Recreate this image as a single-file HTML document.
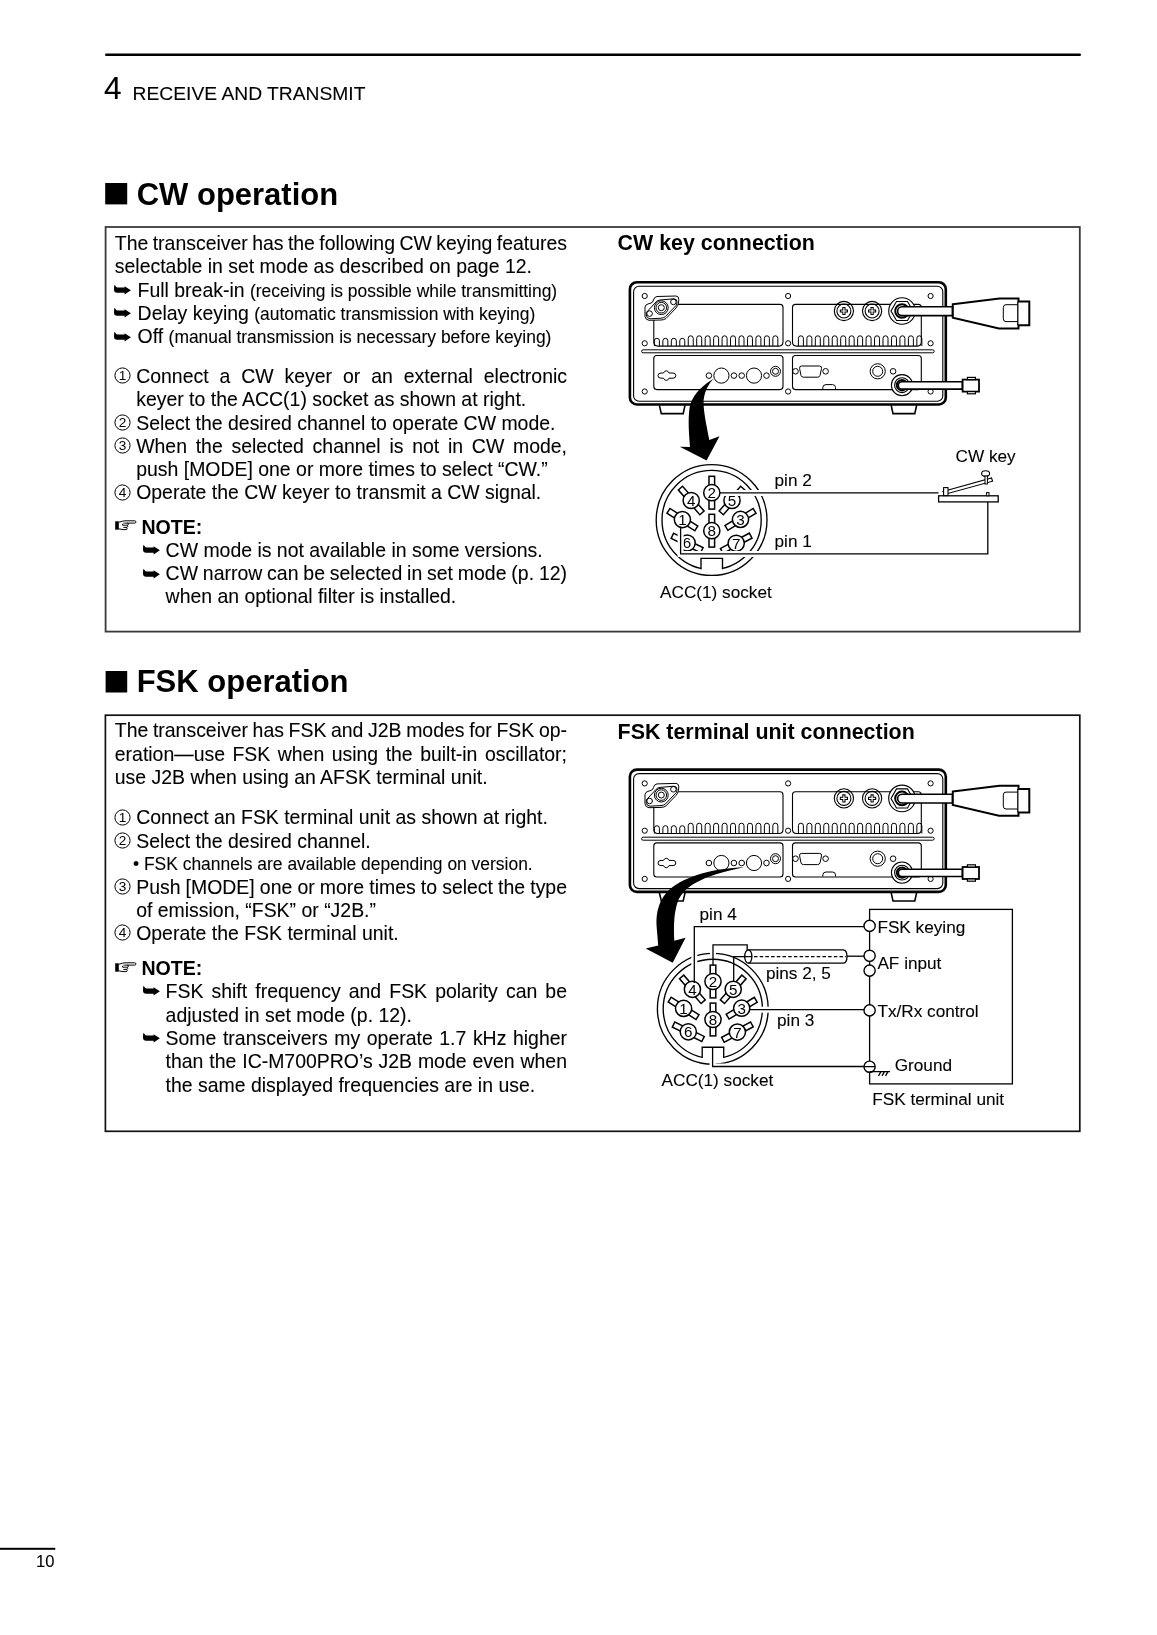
<!DOCTYPE html>
<html><head><meta charset="utf-8">
<style>
html,body{margin:0;padding:0;background:#fff;}
body{width:1157px;height:1635px;position:relative;overflow:hidden;font-family:"Liberation Sans",sans-serif;color:#000;}
.t{position:absolute;white-space:nowrap;line-height:1;}
.r{-webkit-text-stroke:0.1px #000;}
#tx{position:absolute;left:0;top:0;width:1157px;height:1635px;will-change:transform;}
.j{text-align:justify;text-align-last:justify;white-space:normal;}
svg{display:block;}
</style></head><body>
<svg style="position:absolute;left:0;top:0;will-change:transform" width="1157" height="1635" viewBox="0 0 1157 1635">
<rect x="105" y="53.5" width="976" height="2.6" rx="1.3" fill="#000"/>
<rect x="0" y="1547.8" width="55.3" height="2" fill="#000"/>
<rect x="105.2" y="183" width="22" height="21.4" fill="#000"/>
<rect x="105.6" y="671" width="21.6" height="21.5" fill="#000"/>
<rect x="105.6" y="227" width="974.2" height="404.6" fill="none" stroke="#3a3a3a" stroke-width="1.8"/>
<rect x="105.4" y="715.2" width="974.4" height="416.1" fill="none" stroke="#111" stroke-width="1.7"/>
<g id="panelCW"><rect x="629.9" y="282.2" width="315.9" height="122.3" rx="7" fill="none" stroke="#000" stroke-width="2.6"/>
<rect x="633.6" y="286.2" width="309.2" height="115" rx="5.5" fill="none" stroke="#000" stroke-width="1.1"/>
<path d="M659.4,405.4 L661.3,413.6 L683.2,413.6 L685,405.4" fill="none" stroke="#000" stroke-width="1.6"/>
<path d="M891.2,405.4 L893,413.6 L914.8,413.6 L916.6,405.4" fill="none" stroke="#000" stroke-width="1.6"/>
<circle cx="644.7" cy="296.0" r="2.6" fill="none" stroke="#000" stroke-width="1"/>
<circle cx="644.7" cy="343.3" r="2.6" fill="none" stroke="#000" stroke-width="1"/>
<circle cx="644.7" cy="391.5" r="2.6" fill="none" stroke="#000" stroke-width="1"/>
<circle cx="788.1" cy="296.0" r="2.6" fill="none" stroke="#000" stroke-width="1"/>
<circle cx="788.1" cy="343.3" r="2.6" fill="none" stroke="#000" stroke-width="1"/>
<circle cx="788.1" cy="391.5" r="2.6" fill="none" stroke="#000" stroke-width="1"/>
<circle cx="930.6" cy="296.0" r="2.6" fill="none" stroke="#000" stroke-width="1"/>
<circle cx="930.6" cy="343.3" r="2.6" fill="none" stroke="#000" stroke-width="1"/>
<circle cx="930.6" cy="391.5" r="2.6" fill="none" stroke="#000" stroke-width="1"/>
<rect x="641.6" y="349.8" width="292.6" height="3" rx="1.5" fill="none" stroke="#000" stroke-width="1"/>
<path d="M656.8,304.4 L780.0,304.4 Q783.0,304.4 783.0,307.4 L783.0,342.1 Q783.0,346.1 779.0,346.1 L657.8,346.1 Q653.8,346.1 653.8,342.1 L653.8,307.4 Q653.8,304.4 656.8,304.4 Z" fill="none" stroke="#000" stroke-width="1.1"/>
<path d="M654.40,346.1 L654.40,340.8 Q654.40,338.3 656.90,338.3 Q659.40,338.3 659.40,340.8 L659.40,346.1" fill="none" stroke="#000" stroke-width="1"/>
<path d="M662.86,346.1 L662.86,340.8 Q662.86,338.3 665.36,338.3 Q667.86,338.3 667.86,340.8 L667.86,346.1" fill="none" stroke="#000" stroke-width="1"/>
<path d="M671.32,346.1 L671.32,340.8 Q671.32,338.3 673.82,338.3 Q676.32,338.3 676.32,340.8 L676.32,346.1" fill="none" stroke="#000" stroke-width="1"/>
<path d="M679.78,346.1 L679.78,340.8 Q679.78,338.3 682.28,338.3 Q684.78,338.3 684.78,340.8 L684.78,346.1" fill="none" stroke="#000" stroke-width="1"/>
<path d="M688.24,346.1 L688.24,338.3 Q688.24,335.8 690.74,335.8 Q693.24,335.8 693.24,338.3 L693.24,346.1" fill="none" stroke="#000" stroke-width="1"/>
<path d="M696.70,346.1 L696.70,338.3 Q696.70,335.8 699.20,335.8 Q701.70,335.8 701.70,338.3 L701.70,346.1" fill="none" stroke="#000" stroke-width="1"/>
<path d="M705.16,346.1 L705.16,338.3 Q705.16,335.8 707.66,335.8 Q710.16,335.8 710.16,338.3 L710.16,346.1" fill="none" stroke="#000" stroke-width="1"/>
<path d="M713.62,346.1 L713.62,338.3 Q713.62,335.8 716.12,335.8 Q718.62,335.8 718.62,338.3 L718.62,346.1" fill="none" stroke="#000" stroke-width="1"/>
<path d="M722.08,346.1 L722.08,338.3 Q722.08,335.8 724.58,335.8 Q727.08,335.8 727.08,338.3 L727.08,346.1" fill="none" stroke="#000" stroke-width="1"/>
<path d="M730.54,346.1 L730.54,338.3 Q730.54,335.8 733.04,335.8 Q735.54,335.8 735.54,338.3 L735.54,346.1" fill="none" stroke="#000" stroke-width="1"/>
<path d="M739.00,346.1 L739.00,338.3 Q739.00,335.8 741.50,335.8 Q744.00,335.8 744.00,338.3 L744.00,346.1" fill="none" stroke="#000" stroke-width="1"/>
<path d="M747.46,346.1 L747.46,338.3 Q747.46,335.8 749.96,335.8 Q752.46,335.8 752.46,338.3 L752.46,346.1" fill="none" stroke="#000" stroke-width="1"/>
<path d="M755.92,346.1 L755.92,338.3 Q755.92,335.8 758.42,335.8 Q760.92,335.8 760.92,338.3 L760.92,346.1" fill="none" stroke="#000" stroke-width="1"/>
<path d="M764.38,346.1 L764.38,338.3 Q764.38,335.8 766.88,335.8 Q769.38,335.8 769.38,338.3 L769.38,346.1" fill="none" stroke="#000" stroke-width="1"/>
<path d="M772.84,346.1 L772.84,338.3 Q772.84,335.8 775.34,335.8 Q777.84,335.8 777.84,338.3 L777.84,346.1" fill="none" stroke="#000" stroke-width="1"/>
<path d="M795.5,304.4 L918.3,304.4 Q921.3,304.4 921.3,307.4 L921.3,342.1 Q921.3,346.1 917.3,346.1 L796.5,346.1 Q792.5,346.1 792.5,342.1 L792.5,307.4 Q792.5,304.4 795.5,304.4 Z" fill="none" stroke="#000" stroke-width="1.1"/>
<path d="M798.40,346.1 L798.40,338.3 Q798.40,335.8 800.90,335.8 Q803.40,335.8 803.40,338.3 L803.40,346.1" fill="none" stroke="#000" stroke-width="1"/>
<path d="M806.86,346.1 L806.86,338.3 Q806.86,335.8 809.36,335.8 Q811.86,335.8 811.86,338.3 L811.86,346.1" fill="none" stroke="#000" stroke-width="1"/>
<path d="M815.32,346.1 L815.32,338.3 Q815.32,335.8 817.82,335.8 Q820.32,335.8 820.32,338.3 L820.32,346.1" fill="none" stroke="#000" stroke-width="1"/>
<path d="M823.78,346.1 L823.78,338.3 Q823.78,335.8 826.28,335.8 Q828.78,335.8 828.78,338.3 L828.78,346.1" fill="none" stroke="#000" stroke-width="1"/>
<path d="M832.24,346.1 L832.24,338.3 Q832.24,335.8 834.74,335.8 Q837.24,335.8 837.24,338.3 L837.24,346.1" fill="none" stroke="#000" stroke-width="1"/>
<path d="M840.70,346.1 L840.70,338.3 Q840.70,335.8 843.20,335.8 Q845.70,335.8 845.70,338.3 L845.70,346.1" fill="none" stroke="#000" stroke-width="1"/>
<path d="M849.16,346.1 L849.16,338.3 Q849.16,335.8 851.66,335.8 Q854.16,335.8 854.16,338.3 L854.16,346.1" fill="none" stroke="#000" stroke-width="1"/>
<path d="M857.62,346.1 L857.62,338.3 Q857.62,335.8 860.12,335.8 Q862.62,335.8 862.62,338.3 L862.62,346.1" fill="none" stroke="#000" stroke-width="1"/>
<path d="M866.08,346.1 L866.08,338.3 Q866.08,335.8 868.58,335.8 Q871.08,335.8 871.08,338.3 L871.08,346.1" fill="none" stroke="#000" stroke-width="1"/>
<path d="M874.54,346.1 L874.54,338.3 Q874.54,335.8 877.04,335.8 Q879.54,335.8 879.54,338.3 L879.54,346.1" fill="none" stroke="#000" stroke-width="1"/>
<path d="M883.00,346.1 L883.00,338.3 Q883.00,335.8 885.50,335.8 Q888.00,335.8 888.00,338.3 L888.00,346.1" fill="none" stroke="#000" stroke-width="1"/>
<path d="M891.46,346.1 L891.46,338.3 Q891.46,335.8 893.96,335.8 Q896.46,335.8 896.46,338.3 L896.46,346.1" fill="none" stroke="#000" stroke-width="1"/>
<path d="M899.92,346.1 L899.92,338.3 Q899.92,335.8 902.42,335.8 Q904.92,335.8 904.92,338.3 L904.92,346.1" fill="none" stroke="#000" stroke-width="1"/>
<path d="M908.38,346.1 L908.38,338.3 Q908.38,335.8 910.88,335.8 Q913.38,335.8 913.38,338.3 L913.38,346.1" fill="none" stroke="#000" stroke-width="1"/>
<path d="M916.84,346.1 L916.84,338.3 Q916.84,335.8 919.34,335.8 Q921.84,335.8 921.84,338.3 L921.84,346.1" fill="none" stroke="#000" stroke-width="1"/>
<rect x="653.8" y="355.5" width="129.2" height="34.1" rx="3" fill="none" stroke="#000" stroke-width="1.1"/>
<rect x="792.5" y="355.5" width="128.8" height="34.1" rx="3" fill="none" stroke="#000" stroke-width="1.1"/>
<path d="M645,307 Q645.5,304.5 648,304 L651,303 Q653,302.5 653.5,300 Q654,297 657,296.5 L676,296 Q679,296.2 678.8,299.5 L678.5,303 Q678,306 676,308 L666,318.5 Q664,320 661,320 L649,320.3 Q645.5,320 645,316.5 Z" fill="#fff" stroke="#000" stroke-width="1"/>
<path d="M646.3,312.5 L656,302 Q657.5,300.3 660,300 L674,298.8 Q677.5,299 677,302.5 L676.5,305 L665.5,316.5 Q664,318 661,318.2 L650,318.8 Q646.5,318.5 646.3,315 Z" fill="none" stroke="#000" stroke-width="1"/>
<circle cx="661.3" cy="307.7" r="6.9" fill="none" stroke="#000" stroke-width="1"/>
<circle cx="661.3" cy="307.7" r="5.3" fill="none" stroke="#000" stroke-width="1"/>
<circle cx="661.3" cy="307.7" r="3.0" fill="none" stroke="#000" stroke-width="1"/>
<circle cx="649.6" cy="313.6" r="2.8" fill="none" stroke="#000" stroke-width="1"/>
<circle cx="673.4" cy="301.9" r="2.8" fill="none" stroke="#000" stroke-width="1"/>
<circle cx="843.9" cy="311" r="9.6" fill="none" stroke="#000" stroke-width="1.1"/>
<circle cx="843.9" cy="311" r="7.0" fill="none" stroke="#000" stroke-width="1.1"/>
<path d="M839.8,311 L848.0,311 M843.9,306.9 L843.9,315.1" fill="none" stroke="#000" stroke-width="3.2"/>
<path d="M840.9,311 L846.9,311 M843.9,308.0 L843.9,314.0" fill="none" stroke="#fff" stroke-width="1.2"/>
<circle cx="872.1" cy="311" r="9.6" fill="none" stroke="#000" stroke-width="1.1"/>
<circle cx="872.1" cy="311" r="7.0" fill="none" stroke="#000" stroke-width="1.1"/>
<path d="M868.0,311 L876.2,311 M872.1,306.9 L872.1,315.1" fill="none" stroke="#000" stroke-width="3.2"/>
<path d="M869.1,311 L875.1,311 M872.1,308.0 L872.1,314.0" fill="none" stroke="#fff" stroke-width="1.2"/>
<circle cx="902.0" cy="311.0" r="13.3" fill="#fff" stroke="#000" stroke-width="1.1"/>
<polygon points="913.00,311.00 907.50,320.53 896.50,320.53 891.00,311.00 896.50,301.47 907.50,301.47" fill="none" stroke="#000" stroke-width="1.1"/>
<circle cx="902.0" cy="311.0" r="6.8" fill="#fff" stroke="#000" stroke-width="2"/>
<path d="M902.0,306.8 L952.5,306.8 L952.5,315.6 L902.0,315.6 A4.4,4.4 0 0 1 902.0,306.8 Z" fill="#fff" stroke="#000" stroke-width="1.6"/>
<path d="M952.8,304.2 L999.5,298.4 L1018.5,298.4 L1018.5,301.6 L1029.3,301.6 L1029.3,325.2 L1018.5,325.2 L1018.5,328.4 L999,328.4 L952.8,317.6 Z" fill="#fff" stroke="#000" stroke-width="2"/>
<path d="M1017.6,304.7 L1006,304.7 Q1003.3,304.7 1003.3,307.5 L1003.3,318.8 Q1003.3,321.6 1006,321.6 L1017.6,321.6" fill="none" stroke="#000" stroke-width="1"/>
<path d="M1017.8,301.6 L1017.8,325.2" fill="none" stroke="#000" stroke-width="1.3"/>
<circle cx="902.0" cy="385.2" r="10.6" fill="#fff" stroke="#000" stroke-width="1.1"/>
<circle cx="902.0" cy="385.2" r="7.4" fill="none" stroke="#000" stroke-width="1.1"/>
<circle cx="902.0" cy="385.2" r="5.2" fill="#fff" stroke="#000" stroke-width="2"/>
<path d="M902.0,381.8 L962.4,381.8 L962.4,389.09999999999997 L902.0,389.09999999999997 A3.6,3.6 0 0 1 902.0,381.8 Z" fill="#fff" stroke="#000" stroke-width="1.6"/>
<rect x="962.6" y="379.6" width="16.4" height="12" fill="#fff" stroke="#000" stroke-width="1.8"/>
<rect x="967.4" y="377.4" width="8" height="2.2" fill="#fff" stroke="#000" stroke-width="1.2"/>
<rect x="967.4" y="391.6" width="8" height="2.2" fill="#fff" stroke="#000" stroke-width="1.2"/>
<path d="M658,375.6 Q658,373 661,373 L663.5,373 Q664.5,370.8 666.3,370.8 Q668.1,370.8 669,373 L673,373 Q675.8,373 675.8,375.6 Q675.8,378.2 673,378.2 L669,378.2 Q668.1,380.4 666.3,380.4 Q664.5,380.4 663.5,378.2 L661,378.2 Q658,378.2 658,375.6 Z" fill="none" stroke="#000" stroke-width="1"/>
<circle cx="708.9" cy="375.6" r="2.8" fill="none" stroke="#000" stroke-width="1"/>
<circle cx="733.9" cy="375.6" r="2.8" fill="none" stroke="#000" stroke-width="1"/>
<circle cx="741.7" cy="375.6" r="2.8" fill="none" stroke="#000" stroke-width="1"/>
<circle cx="766.5" cy="375.6" r="2.8" fill="none" stroke="#000" stroke-width="1"/>
<circle cx="721.4" cy="375.6" r="7.6" fill="none" stroke="#000" stroke-width="1"/>
<circle cx="754.0" cy="375.6" r="7.6" fill="none" stroke="#000" stroke-width="1"/>
<circle cx="775.5" cy="371.3" r="5.0" fill="none" stroke="#000" stroke-width="1"/>
<circle cx="775.5" cy="371.3" r="3.0" fill="none" stroke="#000" stroke-width="1"/>
<path d="M801.5,366 L819.5,366 Q822,366 821.5,368.5 L820,375.5 Q819.5,377.2 817.5,377.2 L803.5,377.2 Q801.5,377.2 801,375.5 L799.6,368.5 Q799.2,366 801.5,366 Z" fill="none" stroke="#000" stroke-width="1"/>
<circle cx="795.5" cy="371.3" r="2.8" fill="none" stroke="#000" stroke-width="1"/>
<circle cx="825.6" cy="371.3" r="2.8" fill="none" stroke="#000" stroke-width="1"/>
<path d="M822.8,389.2 L822.8,387.5 Q823,384.6 826,384.6 L832.5,384.6 Q835.4,384.6 835.5,387.5 L835.5,389.2" fill="none" stroke="#000" stroke-width="1"/>
<circle cx="877.7" cy="371.3" r="7.6" fill="none" stroke="#000" stroke-width="1"/>
<circle cx="877.7" cy="371.3" r="5.0" fill="none" stroke="#000" stroke-width="1"/>
<circle cx="893.1" cy="371.3" r="2.8" fill="none" stroke="#000" stroke-width="1"/></g>
<g transform="translate(0,487.4)"><rect x="629.9" y="282.2" width="315.9" height="122.3" rx="7" fill="none" stroke="#000" stroke-width="2.6"/>
<rect x="633.6" y="286.2" width="309.2" height="115" rx="5.5" fill="none" stroke="#000" stroke-width="1.1"/>
<path d="M659.4,405.4 L661.3,413.6 L683.2,413.6 L685,405.4" fill="none" stroke="#000" stroke-width="1.6"/>
<path d="M891.2,405.4 L893,413.6 L914.8,413.6 L916.6,405.4" fill="none" stroke="#000" stroke-width="1.6"/>
<circle cx="644.7" cy="296.0" r="2.6" fill="none" stroke="#000" stroke-width="1"/>
<circle cx="644.7" cy="343.3" r="2.6" fill="none" stroke="#000" stroke-width="1"/>
<circle cx="644.7" cy="391.5" r="2.6" fill="none" stroke="#000" stroke-width="1"/>
<circle cx="788.1" cy="296.0" r="2.6" fill="none" stroke="#000" stroke-width="1"/>
<circle cx="788.1" cy="343.3" r="2.6" fill="none" stroke="#000" stroke-width="1"/>
<circle cx="788.1" cy="391.5" r="2.6" fill="none" stroke="#000" stroke-width="1"/>
<circle cx="930.6" cy="296.0" r="2.6" fill="none" stroke="#000" stroke-width="1"/>
<circle cx="930.6" cy="343.3" r="2.6" fill="none" stroke="#000" stroke-width="1"/>
<circle cx="930.6" cy="391.5" r="2.6" fill="none" stroke="#000" stroke-width="1"/>
<rect x="641.6" y="349.8" width="292.6" height="3" rx="1.5" fill="none" stroke="#000" stroke-width="1"/>
<path d="M656.8,304.4 L780.0,304.4 Q783.0,304.4 783.0,307.4 L783.0,342.1 Q783.0,346.1 779.0,346.1 L657.8,346.1 Q653.8,346.1 653.8,342.1 L653.8,307.4 Q653.8,304.4 656.8,304.4 Z" fill="none" stroke="#000" stroke-width="1.1"/>
<path d="M654.40,346.1 L654.40,340.8 Q654.40,338.3 656.90,338.3 Q659.40,338.3 659.40,340.8 L659.40,346.1" fill="none" stroke="#000" stroke-width="1"/>
<path d="M662.86,346.1 L662.86,340.8 Q662.86,338.3 665.36,338.3 Q667.86,338.3 667.86,340.8 L667.86,346.1" fill="none" stroke="#000" stroke-width="1"/>
<path d="M671.32,346.1 L671.32,340.8 Q671.32,338.3 673.82,338.3 Q676.32,338.3 676.32,340.8 L676.32,346.1" fill="none" stroke="#000" stroke-width="1"/>
<path d="M679.78,346.1 L679.78,340.8 Q679.78,338.3 682.28,338.3 Q684.78,338.3 684.78,340.8 L684.78,346.1" fill="none" stroke="#000" stroke-width="1"/>
<path d="M688.24,346.1 L688.24,338.3 Q688.24,335.8 690.74,335.8 Q693.24,335.8 693.24,338.3 L693.24,346.1" fill="none" stroke="#000" stroke-width="1"/>
<path d="M696.70,346.1 L696.70,338.3 Q696.70,335.8 699.20,335.8 Q701.70,335.8 701.70,338.3 L701.70,346.1" fill="none" stroke="#000" stroke-width="1"/>
<path d="M705.16,346.1 L705.16,338.3 Q705.16,335.8 707.66,335.8 Q710.16,335.8 710.16,338.3 L710.16,346.1" fill="none" stroke="#000" stroke-width="1"/>
<path d="M713.62,346.1 L713.62,338.3 Q713.62,335.8 716.12,335.8 Q718.62,335.8 718.62,338.3 L718.62,346.1" fill="none" stroke="#000" stroke-width="1"/>
<path d="M722.08,346.1 L722.08,338.3 Q722.08,335.8 724.58,335.8 Q727.08,335.8 727.08,338.3 L727.08,346.1" fill="none" stroke="#000" stroke-width="1"/>
<path d="M730.54,346.1 L730.54,338.3 Q730.54,335.8 733.04,335.8 Q735.54,335.8 735.54,338.3 L735.54,346.1" fill="none" stroke="#000" stroke-width="1"/>
<path d="M739.00,346.1 L739.00,338.3 Q739.00,335.8 741.50,335.8 Q744.00,335.8 744.00,338.3 L744.00,346.1" fill="none" stroke="#000" stroke-width="1"/>
<path d="M747.46,346.1 L747.46,338.3 Q747.46,335.8 749.96,335.8 Q752.46,335.8 752.46,338.3 L752.46,346.1" fill="none" stroke="#000" stroke-width="1"/>
<path d="M755.92,346.1 L755.92,338.3 Q755.92,335.8 758.42,335.8 Q760.92,335.8 760.92,338.3 L760.92,346.1" fill="none" stroke="#000" stroke-width="1"/>
<path d="M764.38,346.1 L764.38,338.3 Q764.38,335.8 766.88,335.8 Q769.38,335.8 769.38,338.3 L769.38,346.1" fill="none" stroke="#000" stroke-width="1"/>
<path d="M772.84,346.1 L772.84,338.3 Q772.84,335.8 775.34,335.8 Q777.84,335.8 777.84,338.3 L777.84,346.1" fill="none" stroke="#000" stroke-width="1"/>
<path d="M795.5,304.4 L918.3,304.4 Q921.3,304.4 921.3,307.4 L921.3,342.1 Q921.3,346.1 917.3,346.1 L796.5,346.1 Q792.5,346.1 792.5,342.1 L792.5,307.4 Q792.5,304.4 795.5,304.4 Z" fill="none" stroke="#000" stroke-width="1.1"/>
<path d="M798.40,346.1 L798.40,338.3 Q798.40,335.8 800.90,335.8 Q803.40,335.8 803.40,338.3 L803.40,346.1" fill="none" stroke="#000" stroke-width="1"/>
<path d="M806.86,346.1 L806.86,338.3 Q806.86,335.8 809.36,335.8 Q811.86,335.8 811.86,338.3 L811.86,346.1" fill="none" stroke="#000" stroke-width="1"/>
<path d="M815.32,346.1 L815.32,338.3 Q815.32,335.8 817.82,335.8 Q820.32,335.8 820.32,338.3 L820.32,346.1" fill="none" stroke="#000" stroke-width="1"/>
<path d="M823.78,346.1 L823.78,338.3 Q823.78,335.8 826.28,335.8 Q828.78,335.8 828.78,338.3 L828.78,346.1" fill="none" stroke="#000" stroke-width="1"/>
<path d="M832.24,346.1 L832.24,338.3 Q832.24,335.8 834.74,335.8 Q837.24,335.8 837.24,338.3 L837.24,346.1" fill="none" stroke="#000" stroke-width="1"/>
<path d="M840.70,346.1 L840.70,338.3 Q840.70,335.8 843.20,335.8 Q845.70,335.8 845.70,338.3 L845.70,346.1" fill="none" stroke="#000" stroke-width="1"/>
<path d="M849.16,346.1 L849.16,338.3 Q849.16,335.8 851.66,335.8 Q854.16,335.8 854.16,338.3 L854.16,346.1" fill="none" stroke="#000" stroke-width="1"/>
<path d="M857.62,346.1 L857.62,338.3 Q857.62,335.8 860.12,335.8 Q862.62,335.8 862.62,338.3 L862.62,346.1" fill="none" stroke="#000" stroke-width="1"/>
<path d="M866.08,346.1 L866.08,338.3 Q866.08,335.8 868.58,335.8 Q871.08,335.8 871.08,338.3 L871.08,346.1" fill="none" stroke="#000" stroke-width="1"/>
<path d="M874.54,346.1 L874.54,338.3 Q874.54,335.8 877.04,335.8 Q879.54,335.8 879.54,338.3 L879.54,346.1" fill="none" stroke="#000" stroke-width="1"/>
<path d="M883.00,346.1 L883.00,338.3 Q883.00,335.8 885.50,335.8 Q888.00,335.8 888.00,338.3 L888.00,346.1" fill="none" stroke="#000" stroke-width="1"/>
<path d="M891.46,346.1 L891.46,338.3 Q891.46,335.8 893.96,335.8 Q896.46,335.8 896.46,338.3 L896.46,346.1" fill="none" stroke="#000" stroke-width="1"/>
<path d="M899.92,346.1 L899.92,338.3 Q899.92,335.8 902.42,335.8 Q904.92,335.8 904.92,338.3 L904.92,346.1" fill="none" stroke="#000" stroke-width="1"/>
<path d="M908.38,346.1 L908.38,338.3 Q908.38,335.8 910.88,335.8 Q913.38,335.8 913.38,338.3 L913.38,346.1" fill="none" stroke="#000" stroke-width="1"/>
<path d="M916.84,346.1 L916.84,338.3 Q916.84,335.8 919.34,335.8 Q921.84,335.8 921.84,338.3 L921.84,346.1" fill="none" stroke="#000" stroke-width="1"/>
<rect x="653.8" y="355.5" width="129.2" height="34.1" rx="3" fill="none" stroke="#000" stroke-width="1.1"/>
<rect x="792.5" y="355.5" width="128.8" height="34.1" rx="3" fill="none" stroke="#000" stroke-width="1.1"/>
<path d="M645,307 Q645.5,304.5 648,304 L651,303 Q653,302.5 653.5,300 Q654,297 657,296.5 L676,296 Q679,296.2 678.8,299.5 L678.5,303 Q678,306 676,308 L666,318.5 Q664,320 661,320 L649,320.3 Q645.5,320 645,316.5 Z" fill="#fff" stroke="#000" stroke-width="1"/>
<path d="M646.3,312.5 L656,302 Q657.5,300.3 660,300 L674,298.8 Q677.5,299 677,302.5 L676.5,305 L665.5,316.5 Q664,318 661,318.2 L650,318.8 Q646.5,318.5 646.3,315 Z" fill="none" stroke="#000" stroke-width="1"/>
<circle cx="661.3" cy="307.7" r="6.9" fill="none" stroke="#000" stroke-width="1"/>
<circle cx="661.3" cy="307.7" r="5.3" fill="none" stroke="#000" stroke-width="1"/>
<circle cx="661.3" cy="307.7" r="3.0" fill="none" stroke="#000" stroke-width="1"/>
<circle cx="649.6" cy="313.6" r="2.8" fill="none" stroke="#000" stroke-width="1"/>
<circle cx="673.4" cy="301.9" r="2.8" fill="none" stroke="#000" stroke-width="1"/>
<circle cx="843.9" cy="311" r="9.6" fill="none" stroke="#000" stroke-width="1.1"/>
<circle cx="843.9" cy="311" r="7.0" fill="none" stroke="#000" stroke-width="1.1"/>
<path d="M839.8,311 L848.0,311 M843.9,306.9 L843.9,315.1" fill="none" stroke="#000" stroke-width="3.2"/>
<path d="M840.9,311 L846.9,311 M843.9,308.0 L843.9,314.0" fill="none" stroke="#fff" stroke-width="1.2"/>
<circle cx="872.1" cy="311" r="9.6" fill="none" stroke="#000" stroke-width="1.1"/>
<circle cx="872.1" cy="311" r="7.0" fill="none" stroke="#000" stroke-width="1.1"/>
<path d="M868.0,311 L876.2,311 M872.1,306.9 L872.1,315.1" fill="none" stroke="#000" stroke-width="3.2"/>
<path d="M869.1,311 L875.1,311 M872.1,308.0 L872.1,314.0" fill="none" stroke="#fff" stroke-width="1.2"/>
<circle cx="902.0" cy="311.0" r="13.3" fill="#fff" stroke="#000" stroke-width="1.1"/>
<polygon points="913.00,311.00 907.50,320.53 896.50,320.53 891.00,311.00 896.50,301.47 907.50,301.47" fill="none" stroke="#000" stroke-width="1.1"/>
<circle cx="902.0" cy="311.0" r="6.8" fill="#fff" stroke="#000" stroke-width="2"/>
<path d="M902.0,306.8 L952.5,306.8 L952.5,315.6 L902.0,315.6 A4.4,4.4 0 0 1 902.0,306.8 Z" fill="#fff" stroke="#000" stroke-width="1.6"/>
<path d="M952.8,304.2 L999.5,298.4 L1018.5,298.4 L1018.5,301.6 L1029.3,301.6 L1029.3,325.2 L1018.5,325.2 L1018.5,328.4 L999,328.4 L952.8,317.6 Z" fill="#fff" stroke="#000" stroke-width="2"/>
<path d="M1017.6,304.7 L1006,304.7 Q1003.3,304.7 1003.3,307.5 L1003.3,318.8 Q1003.3,321.6 1006,321.6 L1017.6,321.6" fill="none" stroke="#000" stroke-width="1"/>
<path d="M1017.8,301.6 L1017.8,325.2" fill="none" stroke="#000" stroke-width="1.3"/>
<circle cx="902.0" cy="385.2" r="10.6" fill="#fff" stroke="#000" stroke-width="1.1"/>
<circle cx="902.0" cy="385.2" r="7.4" fill="none" stroke="#000" stroke-width="1.1"/>
<circle cx="902.0" cy="385.2" r="5.2" fill="#fff" stroke="#000" stroke-width="2"/>
<path d="M902.0,381.8 L962.4,381.8 L962.4,389.09999999999997 L902.0,389.09999999999997 A3.6,3.6 0 0 1 902.0,381.8 Z" fill="#fff" stroke="#000" stroke-width="1.6"/>
<rect x="962.6" y="379.6" width="16.4" height="12" fill="#fff" stroke="#000" stroke-width="1.8"/>
<rect x="967.4" y="377.4" width="8" height="2.2" fill="#fff" stroke="#000" stroke-width="1.2"/>
<rect x="967.4" y="391.6" width="8" height="2.2" fill="#fff" stroke="#000" stroke-width="1.2"/>
<path d="M658,375.6 Q658,373 661,373 L663.5,373 Q664.5,370.8 666.3,370.8 Q668.1,370.8 669,373 L673,373 Q675.8,373 675.8,375.6 Q675.8,378.2 673,378.2 L669,378.2 Q668.1,380.4 666.3,380.4 Q664.5,380.4 663.5,378.2 L661,378.2 Q658,378.2 658,375.6 Z" fill="none" stroke="#000" stroke-width="1"/>
<circle cx="708.9" cy="375.6" r="2.8" fill="none" stroke="#000" stroke-width="1"/>
<circle cx="733.9" cy="375.6" r="2.8" fill="none" stroke="#000" stroke-width="1"/>
<circle cx="741.7" cy="375.6" r="2.8" fill="none" stroke="#000" stroke-width="1"/>
<circle cx="766.5" cy="375.6" r="2.8" fill="none" stroke="#000" stroke-width="1"/>
<circle cx="721.4" cy="375.6" r="7.6" fill="none" stroke="#000" stroke-width="1"/>
<circle cx="754.0" cy="375.6" r="7.6" fill="none" stroke="#000" stroke-width="1"/>
<circle cx="775.5" cy="371.3" r="5.0" fill="none" stroke="#000" stroke-width="1"/>
<circle cx="775.5" cy="371.3" r="3.0" fill="none" stroke="#000" stroke-width="1"/>
<path d="M801.5,366 L819.5,366 Q822,366 821.5,368.5 L820,375.5 Q819.5,377.2 817.5,377.2 L803.5,377.2 Q801.5,377.2 801,375.5 L799.6,368.5 Q799.2,366 801.5,366 Z" fill="none" stroke="#000" stroke-width="1"/>
<circle cx="795.5" cy="371.3" r="2.8" fill="none" stroke="#000" stroke-width="1"/>
<circle cx="825.6" cy="371.3" r="2.8" fill="none" stroke="#000" stroke-width="1"/>
<path d="M822.8,389.2 L822.8,387.5 Q823,384.6 826,384.6 L832.5,384.6 Q835.4,384.6 835.5,387.5 L835.5,389.2" fill="none" stroke="#000" stroke-width="1"/>
<circle cx="877.7" cy="371.3" r="7.6" fill="none" stroke="#000" stroke-width="1"/>
<circle cx="877.7" cy="371.3" r="5.0" fill="none" stroke="#000" stroke-width="1"/>
<circle cx="893.1" cy="371.3" r="2.8" fill="none" stroke="#000" stroke-width="1"/></g>
<path d="M714.2,378.5 C704,384 694,393 690,405 C688,417 688.5,428 690,446.9 L679.8,446.7 L706.6,460.5 L719.5,436.3 L709.3,440 C706.5,425 703,410 703.6,400 C705,390 709,383 714.2,378.5 Z" fill="#000"/>
<circle cx="711.6" cy="520.0" r="55.4" fill="none" stroke="#000" stroke-width="1.35"/>
<circle cx="711.6" cy="520.0" r="49.6" fill="none" stroke="#000" stroke-width="1.35"/>
<rect x="701.3000000000001" y="558.6" width="21.3" height="13" fill="#fff"/>
<path d="M701.0,569.2 L701.0,558.4 L722.5,558.4 L722.5,569.2" fill="none" stroke="#000" stroke-width="1.35"/>
<g transform="translate(711.80,492.70) rotate(90)"><rect x="-16.4" y="-2.8" width="32.8" height="5.6" fill="#fff" stroke="#000" stroke-width="1.5"/></g>
<circle cx="711.80" cy="492.70" r="8.1" fill="#fff" stroke="#000" stroke-width="1.5"/>
<text x="711.80" y="498.10" text-anchor="middle" font-family="Liberation Sans" font-size="15.2">2</text>
<g transform="translate(711.80,530.70) rotate(90)"><rect x="-16.4" y="-2.8" width="32.8" height="5.6" fill="#fff" stroke="#000" stroke-width="1.5"/></g>
<circle cx="711.80" cy="530.70" r="8.1" fill="#fff" stroke="#000" stroke-width="1.5"/>
<text x="711.80" y="536.10" text-anchor="middle" font-family="Liberation Sans" font-size="15.2">8</text>
<g transform="translate(691.20,500.50) rotate(49)"><rect x="-16.4" y="-2.8" width="32.8" height="5.6" fill="#fff" stroke="#000" stroke-width="1.5"/></g>
<circle cx="691.20" cy="500.50" r="8.1" fill="#fff" stroke="#000" stroke-width="1.5"/>
<text x="691.20" y="505.90" text-anchor="middle" font-family="Liberation Sans" font-size="15.2">4</text>
<g transform="translate(732.00,500.50) rotate(-49)"><rect x="-16.4" y="-2.8" width="32.8" height="5.6" fill="#fff" stroke="#000" stroke-width="1.5"/></g>
<circle cx="732.00" cy="500.50" r="8.1" fill="#fff" stroke="#000" stroke-width="1.5"/>
<text x="732.00" y="505.90" text-anchor="middle" font-family="Liberation Sans" font-size="15.2">5</text>
<g transform="translate(682.40,519.60) rotate(32)"><rect x="-16.4" y="-2.8" width="32.8" height="5.6" fill="#fff" stroke="#000" stroke-width="1.5"/></g>
<circle cx="682.40" cy="519.60" r="8.1" fill="#fff" stroke="#000" stroke-width="1.5"/>
<text x="682.40" y="525.00" text-anchor="middle" font-family="Liberation Sans" font-size="15.2">1</text>
<g transform="translate(740.50,519.40) rotate(-31)"><rect x="-16.4" y="-2.8" width="32.8" height="5.6" fill="#fff" stroke="#000" stroke-width="1.5"/></g>
<circle cx="740.50" cy="519.40" r="8.1" fill="#fff" stroke="#000" stroke-width="1.5"/>
<text x="740.50" y="524.80" text-anchor="middle" font-family="Liberation Sans" font-size="15.2">3</text>
<g transform="translate(687.10,543.00) rotate(26)"><rect x="-16.4" y="-2.8" width="32.8" height="5.6" fill="#fff" stroke="#000" stroke-width="1.5"/></g>
<circle cx="687.10" cy="543.00" r="8.1" fill="#fff" stroke="#000" stroke-width="1.5"/>
<text x="687.10" y="548.40" text-anchor="middle" font-family="Liberation Sans" font-size="15.2">6</text>
<g transform="translate(736.20,543.30) rotate(-28)"><rect x="-16.4" y="-2.8" width="32.8" height="5.6" fill="#fff" stroke="#000" stroke-width="1.5"/></g>
<circle cx="736.20" cy="543.30" r="8.1" fill="#fff" stroke="#000" stroke-width="1.5"/>
<text x="736.20" y="548.70" text-anchor="middle" font-family="Liberation Sans" font-size="15.2">7</text>
<path d="M722,492.9 L938.5,492.9" fill="none" stroke="#fff" stroke-width="6" stroke-linejoin="miter"/>
<path d="M680.6,530 L680.6,553.9 L987.8,553.9" fill="none" stroke="#fff" stroke-width="6" stroke-linejoin="miter"/>
<path d="M719.4,492.9 L938.5,492.9" fill="none" stroke="#000" stroke-width="1.3"/>
<path d="M680.6,526.5 L680.6,553.9 L987.8,553.9 L987.8,501.9" fill="none" stroke="#000" stroke-width="1.3"/>
<rect x="938.6" y="495.8" width="59.6" height="6.1" fill="#fff" stroke="#000" stroke-width="1.3"/>
<path d="M943,491.5 L991.5,478 L992.6,481.2 L946,494 Z" fill="#fff" stroke="#000" stroke-width="1.1"/>
<rect x="943.6" y="487.6" width="4.4" height="8" fill="#fff" stroke="#000" stroke-width="1.1"/>
<ellipse cx="985.6" cy="473.6" rx="4" ry="2.8" fill="#fff" stroke="#000" stroke-width="1.1"/>
<rect x="985" y="476" width="2.4" height="8" fill="#fff" stroke="#000" stroke-width="1"/>
<rect x="986.6" y="492.6" width="2.4" height="3.2" fill="#fff" stroke="#000" stroke-width="1"/>
<path d="M744,867.2 C715,868 685,876 670,889 C659,899 656,912 656.5,925 L658.2,945.5 L645.7,948.6 L672.7,962.8 L685.6,937.8 L674.3,940.8 C673.5,925 674,912 678,901 C684,887 700,876 744,867.2 Z" fill="#000"/>
<circle cx="712.8" cy="1008.8" r="55.4" fill="none" stroke="#000" stroke-width="1.35"/>
<circle cx="712.8" cy="1008.8" r="49.6" fill="none" stroke="#000" stroke-width="1.35"/>
<rect x="702.5" y="1047.3999999999999" width="21.3" height="13" fill="#fff"/>
<path d="M702.1999999999999,1058.0 L702.1999999999999,1047.2 L723.6999999999999,1047.2 L723.6999999999999,1058.0" fill="none" stroke="#000" stroke-width="1.35"/>
<g transform="translate(713.00,981.50) rotate(90)"><rect x="-16.4" y="-2.8" width="32.8" height="5.6" fill="#fff" stroke="#000" stroke-width="1.5"/></g>
<circle cx="713.00" cy="981.50" r="8.1" fill="#fff" stroke="#000" stroke-width="1.5"/>
<text x="713.00" y="986.90" text-anchor="middle" font-family="Liberation Sans" font-size="15.2">2</text>
<g transform="translate(713.00,1019.50) rotate(90)"><rect x="-16.4" y="-2.8" width="32.8" height="5.6" fill="#fff" stroke="#000" stroke-width="1.5"/></g>
<circle cx="713.00" cy="1019.50" r="8.1" fill="#fff" stroke="#000" stroke-width="1.5"/>
<text x="713.00" y="1024.90" text-anchor="middle" font-family="Liberation Sans" font-size="15.2">8</text>
<g transform="translate(692.40,989.30) rotate(49)"><rect x="-16.4" y="-2.8" width="32.8" height="5.6" fill="#fff" stroke="#000" stroke-width="1.5"/></g>
<circle cx="692.40" cy="989.30" r="8.1" fill="#fff" stroke="#000" stroke-width="1.5"/>
<text x="692.40" y="994.70" text-anchor="middle" font-family="Liberation Sans" font-size="15.2">4</text>
<g transform="translate(733.20,989.30) rotate(-49)"><rect x="-16.4" y="-2.8" width="32.8" height="5.6" fill="#fff" stroke="#000" stroke-width="1.5"/></g>
<circle cx="733.20" cy="989.30" r="8.1" fill="#fff" stroke="#000" stroke-width="1.5"/>
<text x="733.20" y="994.70" text-anchor="middle" font-family="Liberation Sans" font-size="15.2">5</text>
<g transform="translate(683.60,1008.40) rotate(32)"><rect x="-16.4" y="-2.8" width="32.8" height="5.6" fill="#fff" stroke="#000" stroke-width="1.5"/></g>
<circle cx="683.60" cy="1008.40" r="8.1" fill="#fff" stroke="#000" stroke-width="1.5"/>
<text x="683.60" y="1013.80" text-anchor="middle" font-family="Liberation Sans" font-size="15.2">1</text>
<g transform="translate(741.70,1008.20) rotate(-31)"><rect x="-16.4" y="-2.8" width="32.8" height="5.6" fill="#fff" stroke="#000" stroke-width="1.5"/></g>
<circle cx="741.70" cy="1008.20" r="8.1" fill="#fff" stroke="#000" stroke-width="1.5"/>
<text x="741.70" y="1013.60" text-anchor="middle" font-family="Liberation Sans" font-size="15.2">3</text>
<g transform="translate(688.30,1031.80) rotate(26)"><rect x="-16.4" y="-2.8" width="32.8" height="5.6" fill="#fff" stroke="#000" stroke-width="1.5"/></g>
<circle cx="688.30" cy="1031.80" r="8.1" fill="#fff" stroke="#000" stroke-width="1.5"/>
<text x="688.30" y="1037.20" text-anchor="middle" font-family="Liberation Sans" font-size="15.2">6</text>
<g transform="translate(737.40,1032.10) rotate(-28)"><rect x="-16.4" y="-2.8" width="32.8" height="5.6" fill="#fff" stroke="#000" stroke-width="1.5"/></g>
<circle cx="737.40" cy="1032.10" r="8.1" fill="#fff" stroke="#000" stroke-width="1.5"/>
<text x="737.40" y="1037.50" text-anchor="middle" font-family="Liberation Sans" font-size="15.2">7</text>
<path d="M694.3,976 L694.3,926.6" fill="none" stroke="#fff" stroke-width="6"/>
<path d="M713,958 L713,944.8" fill="none" stroke="#fff" stroke-width="6"/>
<path d="M752,1009.7 L775,1009.7" fill="none" stroke="#fff" stroke-width="6"/>
<path d="M712.6,1058 L712.6,1066.5 L760,1066.5" fill="none" stroke="#fff" stroke-width="6"/>
<path d="M694.3,983 L694.3,926.6 L864.2,926.6" fill="none" stroke="#000" stroke-width="1.3"/>
<path d="M713,965 L713,944.8 L747.2,944.8 L747.2,950" fill="none" stroke="#000" stroke-width="1.3"/>
<path d="M733.7,982 L733.7,956.6 L748.3,956.6" fill="none" stroke="#000" stroke-width="1.3"/>
<path d="M748.3,956.6 L846,956.6" fill="none" stroke="#000" stroke-width="1.2" stroke-dasharray="3.5,2.2"/>
<path d="M748.3,949.8 L843,949.8 Q847,949.8 847,956.5 Q847,963.2 843,963.2 L748.3,963.2" fill="none" stroke="#000" stroke-width="1.3"/>
<ellipse cx="748.3" cy="956.5" rx="3.6" ry="6.7" fill="none" stroke="#000" stroke-width="1.3"/>
<path d="M847,956.2 L864.2,956.2" fill="none" stroke="#000" stroke-width="1.3"/>
<path d="M749.5,1009.7 L864.2,1009.7" fill="none" stroke="#000" stroke-width="1.3"/>
<path d="M712.6,1047.8 L712.6,1066.5 L875,1066.5" fill="none" stroke="#000" stroke-width="1.3"/>
<rect x="869.6" y="909.4" width="142.8" height="174.5" fill="none" stroke="#000" stroke-width="1.3"/>
<circle cx="869.6" cy="925.9" r="5.6" fill="#fff" stroke="#000" stroke-width="1.4"/>
<circle cx="869.6" cy="955.8" r="5.6" fill="#fff" stroke="#000" stroke-width="1.4"/>
<circle cx="869.6" cy="970.6" r="5.6" fill="#fff" stroke="#000" stroke-width="1.4"/>
<circle cx="869.6" cy="1010.4" r="5.6" fill="#fff" stroke="#000" stroke-width="1.4"/>
<circle cx="869.6" cy="1066.7" r="5.6" fill="#fff" stroke="#000" stroke-width="1.4"/>
<path d="M864.2,1066.7 L875,1066.7 M869.6,1071.6 L890,1071.6 M878.5,1075.8 L881,1071.6 M882,1075.8 L884.5,1071.6 M885.5,1075.8 L888,1071.6" fill="none" stroke="#000" stroke-width="1.3"/>
</svg>
<div id="tx">
<div class="t r" style="left:104.00px;top:73.04px;font-size:31.6px;">4</div>
<div class="t r" style="left:132.60px;top:83.59px;font-size:19.26px;">RECEIVE AND TRANSMIT</div>
<div class="t" style="left:136.70px;top:178.55px;font-size:31.0px;font-weight:700;">CW operation</div>
<div class="t" style="left:136.70px;top:666.35px;font-size:31.0px;font-weight:700;">FSK operation</div>
<div class="t r" style="left:114.80px;top:234.33px;font-size:19.45px;word-spacing:-0.994px;">The transceiver has the following CW keying features</div>
<div class="t r" style="left:114.80px;top:257.13px;font-size:19.45px;">selectable in set mode as described on page 12.</div>
<svg style="position:absolute;left:114.20px;top:285.00px" width="17" height="10" viewBox="0 0 17 10"><path d="M0.2,0 L1.4,0.8 Q1.8,2.4 3.6,2.4 L10.6,2.4 L10.6,1.2 L16.9,5.2 L10.6,9.4 L10.6,7.8 L3.2,7.8 Q0,7.8 0,4.6 Z" fill="#000"/></svg>
<div class="t r" style="left:137.60px;top:280.63px;font-size:19.45px;">Full break-in <span style="font-size:17.45px">(receiving is possible while transmitting)</span></div>
<svg style="position:absolute;left:114.20px;top:308.30px" width="17" height="10" viewBox="0 0 17 10"><path d="M0.2,0 L1.4,0.8 Q1.8,2.4 3.6,2.4 L10.6,2.4 L10.6,1.2 L16.9,5.2 L10.6,9.4 L10.6,7.8 L3.2,7.8 Q0,7.8 0,4.6 Z" fill="#000"/></svg>
<div class="t r" style="left:137.60px;top:303.93px;font-size:19.45px;">Delay keying <span style="font-size:17.45px">(automatic transmission with keying)</span></div>
<svg style="position:absolute;left:114.20px;top:331.70px" width="17" height="10" viewBox="0 0 17 10"><path d="M0.2,0 L1.4,0.8 Q1.8,2.4 3.6,2.4 L10.6,2.4 L10.6,1.2 L16.9,5.2 L10.6,9.4 L10.6,7.8 L3.2,7.8 Q0,7.8 0,4.6 Z" fill="#000"/></svg>
<div class="t r" style="left:137.60px;top:327.33px;font-size:19.45px;">Off <span style="font-size:17.45px">(manual transmission is necessary before keying)</span></div>
<svg style="position:absolute;left:113.90px;top:367.20px" width="17" height="17" viewBox="0 0 17 17"><circle cx="8.5" cy="8.5" r="7.6" fill="none" stroke="#000" stroke-width="1"/><text x="8.5" y="13.4" text-anchor="middle" font-family="Liberation Sans" font-size="13.6">1</text></svg>
<div class="t r" style="left:136.20px;top:367.13px;font-size:19.45px;word-spacing:5.518px;">Connect a CW keyer or an external electronic</div>
<div class="t r" style="left:136.20px;top:390.43px;font-size:19.45px;">keyer to the ACC(1) socket as shown at right.</div>
<svg style="position:absolute;left:113.90px;top:413.70px" width="17" height="17" viewBox="0 0 17 17"><circle cx="8.5" cy="8.5" r="7.6" fill="none" stroke="#000" stroke-width="1"/><text x="8.5" y="13.4" text-anchor="middle" font-family="Liberation Sans" font-size="13.6">2</text></svg>
<div class="t r" style="left:136.20px;top:413.63px;font-size:19.45px;">Select the desired channel to operate CW mode.</div>
<svg style="position:absolute;left:113.90px;top:436.80px" width="17" height="17" viewBox="0 0 17 17"><circle cx="8.5" cy="8.5" r="7.6" fill="none" stroke="#000" stroke-width="1"/><text x="8.5" y="13.4" text-anchor="middle" font-family="Liberation Sans" font-size="13.6">3</text></svg>
<div class="t r" style="left:136.20px;top:436.73px;font-size:19.45px;word-spacing:3.340px;">When the selected channel is not in CW mode,</div>
<div class="t r" style="left:136.20px;top:460.13px;font-size:19.45px;">push [MODE] one or more times to select “CW.”</div>
<svg style="position:absolute;left:113.90px;top:483.50px" width="17" height="17" viewBox="0 0 17 17"><circle cx="8.5" cy="8.5" r="7.6" fill="none" stroke="#000" stroke-width="1"/><text x="8.5" y="13.4" text-anchor="middle" font-family="Liberation Sans" font-size="13.6">4</text></svg>
<div class="t r" style="left:136.20px;top:483.43px;font-size:19.45px;">Operate the CW keyer to transmit a CW signal.</div>
<svg style="position:absolute;left:114.60px;top:520.40px" width="22" height="11" viewBox="0 0 22 11"><rect x="0.2" y="1.3" width="3.6" height="8.4" fill="#000"/><path d="M3.8,2.2 L7.5,1.2 L10,0.8 L19.5,0.8 Q21,0.9 21,2 Q21,3 19.5,3.1 L12.2,3.1 M3.8,8.8 L8,9.6 L11,9.6 Q12.3,9.5 12.2,8.4 Q12.1,7.4 10.8,7.4 M11,9.4 M8.6,3 Q7.2,3.8 7.6,5.2 L11.5,5.2 Q12.8,5.3 12.8,6.3 Q12.6,7.4 11,7.4 L8.4,7.4 M9.2,3.1 L12.4,3.1 Q13.6,3.2 13.5,4.2 Q13.4,5.2 12,5.2" fill="none" stroke="#000" stroke-width="1"/></svg>
<div class="t" style="left:141.40px;top:517.90px;font-size:19.6px;font-weight:700;">NOTE:</div>
<svg style="position:absolute;left:142.60px;top:545.10px" width="17" height="10" viewBox="0 0 17 10"><path d="M0.2,0 L1.4,0.8 Q1.8,2.4 3.6,2.4 L10.6,2.4 L10.6,1.2 L16.9,5.2 L10.6,9.4 L10.6,7.8 L3.2,7.8 Q0,7.8 0,4.6 Z" fill="#000"/></svg>
<div class="t r" style="left:165.60px;top:540.73px;font-size:19.45px;">CW mode is not available in some versions.</div>
<svg style="position:absolute;left:142.60px;top:568.60px" width="17" height="10" viewBox="0 0 17 10"><path d="M0.2,0 L1.4,0.8 Q1.8,2.4 3.6,2.4 L10.6,2.4 L10.6,1.2 L16.9,5.2 L10.6,9.4 L10.6,7.8 L3.2,7.8 Q0,7.8 0,4.6 Z" fill="#000"/></svg>
<div class="t r" style="left:165.60px;top:564.23px;font-size:19.45px;word-spacing:-0.535px;">CW narrow can be selected in set mode (p. 12)</div>
<div class="t r" style="left:165.60px;top:587.43px;font-size:19.45px;">when an optional filter is installed.</div>
<div class="t r" style="left:114.80px;top:721.33px;font-size:19.45px;word-spacing:-0.773px;">The transceiver has FSK and J2B modes for FSK op-</div>
<div class="t r" style="left:114.80px;top:744.93px;font-size:19.45px;word-spacing:2.078px;">eration—use FSK when using the built-in oscillator;</div>
<div class="t r" style="left:114.80px;top:768.13px;font-size:19.45px;">use J2B when using an AFSK terminal unit.</div>
<svg style="position:absolute;left:113.90px;top:808.50px" width="17" height="17" viewBox="0 0 17 17"><circle cx="8.5" cy="8.5" r="7.6" fill="none" stroke="#000" stroke-width="1"/><text x="8.5" y="13.4" text-anchor="middle" font-family="Liberation Sans" font-size="13.6">1</text></svg>
<div class="t r" style="left:136.20px;top:808.43px;font-size:19.45px;">Connect an FSK terminal unit as shown at right.</div>
<svg style="position:absolute;left:113.90px;top:831.70px" width="17" height="17" viewBox="0 0 17 17"><circle cx="8.5" cy="8.5" r="7.6" fill="none" stroke="#000" stroke-width="1"/><text x="8.5" y="13.4" text-anchor="middle" font-family="Liberation Sans" font-size="13.6">2</text></svg>
<div class="t r" style="left:136.20px;top:831.63px;font-size:19.45px;">Select the desired channel.</div>
<div class="t r" style="left:133.00px;top:856.43px;font-size:17.45px;">• FSK channels are available depending on version.</div>
<svg style="position:absolute;left:113.90px;top:877.90px" width="17" height="17" viewBox="0 0 17 17"><circle cx="8.5" cy="8.5" r="7.6" fill="none" stroke="#000" stroke-width="1"/><text x="8.5" y="13.4" text-anchor="middle" font-family="Liberation Sans" font-size="13.6">3</text></svg>
<div class="t r" style="left:136.20px;top:877.83px;font-size:19.45px;word-spacing:-0.269px;">Push [MODE] one or more times to select the type</div>
<div class="t r" style="left:136.20px;top:901.03px;font-size:19.45px;">of emission, “FSK” or “J2B.”</div>
<svg style="position:absolute;left:113.90px;top:924.30px" width="17" height="17" viewBox="0 0 17 17"><circle cx="8.5" cy="8.5" r="7.6" fill="none" stroke="#000" stroke-width="1"/><text x="8.5" y="13.4" text-anchor="middle" font-family="Liberation Sans" font-size="13.6">4</text></svg>
<div class="t r" style="left:136.20px;top:924.23px;font-size:19.45px;">Operate the FSK terminal unit.</div>
<svg style="position:absolute;left:114.60px;top:961.70px" width="22" height="11" viewBox="0 0 22 11"><rect x="0.2" y="1.3" width="3.6" height="8.4" fill="#000"/><path d="M3.8,2.2 L7.5,1.2 L10,0.8 L19.5,0.8 Q21,0.9 21,2 Q21,3 19.5,3.1 L12.2,3.1 M3.8,8.8 L8,9.6 L11,9.6 Q12.3,9.5 12.2,8.4 Q12.1,7.4 10.8,7.4 M11,9.4 M8.6,3 Q7.2,3.8 7.6,5.2 L11.5,5.2 Q12.8,5.3 12.8,6.3 Q12.6,7.4 11,7.4 L8.4,7.4 M9.2,3.1 L12.4,3.1 Q13.6,3.2 13.5,4.2 Q13.4,5.2 12,5.2" fill="none" stroke="#000" stroke-width="1"/></svg>
<div class="t" style="left:141.40px;top:959.20px;font-size:19.6px;font-weight:700;">NOTE:</div>
<svg style="position:absolute;left:142.60px;top:986.40px" width="17" height="10" viewBox="0 0 17 10"><path d="M0.2,0 L1.4,0.8 Q1.8,2.4 3.6,2.4 L10.6,2.4 L10.6,1.2 L16.9,5.2 L10.6,9.4 L10.6,7.8 L3.2,7.8 Q0,7.8 0,4.6 Z" fill="#000"/></svg>
<div class="t r" style="left:165.60px;top:982.03px;font-size:19.45px;word-spacing:2.704px;">FSK shift frequency and FSK polarity can be</div>
<div class="t r" style="left:165.60px;top:1005.63px;font-size:19.45px;">adjusted in set mode (p. 12).</div>
<svg style="position:absolute;left:142.60px;top:1033.20px" width="17" height="10" viewBox="0 0 17 10"><path d="M0.2,0 L1.4,0.8 Q1.8,2.4 3.6,2.4 L10.6,2.4 L10.6,1.2 L16.9,5.2 L10.6,9.4 L10.6,7.8 L3.2,7.8 Q0,7.8 0,4.6 Z" fill="#000"/></svg>
<div class="t r" style="left:165.60px;top:1028.83px;font-size:19.45px;word-spacing:1.179px;">Some transceivers my operate 1.7 kHz higher</div>
<div class="t r" style="left:165.60px;top:1052.33px;font-size:19.45px;word-spacing:0.512px;">than the IC-M700PRO’s J2B mode even when</div>
<div class="t r" style="left:165.60px;top:1075.53px;font-size:19.45px;">the same displayed frequencies are in use.</div>
<div class="t" style="left:617.60px;top:233.08px;font-size:21.4px;font-weight:700;">CW key connection</div>
<div class="t" style="left:617.60px;top:721.78px;font-size:21.4px;font-weight:700;">FSK terminal unit connection</div>
<div class="t r" style="left:774.50px;top:472.24px;font-size:17.2px;">pin 2</div>
<div class="t r" style="left:774.50px;top:533.34px;font-size:17.2px;">pin 1</div>
<div class="t r" style="left:660.00px;top:583.94px;font-size:17.2px;">ACC(1) socket</div>
<div class="t r" style="left:955.50px;top:448.44px;font-size:17.2px;">CW key</div>
<div class="t r" style="left:699.50px;top:905.84px;font-size:17.2px;">pin 4</div>
<div class="t r" style="left:765.90px;top:964.94px;font-size:17.2px;">pins 2, 5</div>
<div class="t r" style="left:777.00px;top:1012.34px;font-size:17.2px;">pin 3</div>
<div class="t r" style="left:661.50px;top:1072.34px;font-size:17.2px;">ACC(1) socket</div>
<div class="t r" style="left:877.40px;top:918.84px;font-size:17.2px;">FSK keying</div>
<div class="t r" style="left:877.40px;top:954.54px;font-size:17.2px;">AF input</div>
<div class="t r" style="left:877.40px;top:1003.34px;font-size:17.2px;">Tx/Rx control</div>
<div class="t r" style="left:894.70px;top:1057.44px;font-size:17.2px;">Ground</div>
<div class="t r" style="left:872.30px;top:1091.34px;font-size:17.2px;">FSK terminal unit</div>
<div class="t r" style="left:36.00px;top:1553.84px;font-size:16.6px;">10</div>
</div>
</body></html>
